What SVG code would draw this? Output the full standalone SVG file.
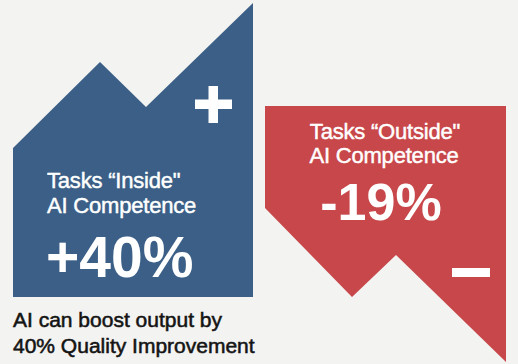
<svg xmlns="http://www.w3.org/2000/svg" width="518" height="364" viewBox="0 0 518 364">
  <style>
    .lbl { font-family: "Liberation Sans", Arial, sans-serif; font-size: 22px; fill: #ffffff; stroke: #ffffff; stroke-width: 0.45px; letter-spacing: -0.2px; }
    .big { font-family: "Liberation Sans", Arial, sans-serif; font-weight: bold; fill: #ffffff; }
    .cap { font-family: "Liberation Sans", Arial, sans-serif; font-size: 21px; fill: #141414; stroke: #141414; stroke-width: 0.55px; }
    .sign { fill: #ffffff; }
  </style>
  <rect x="0" y="0" width="518" height="364" fill="#f3f3f1"/>
  <g id="inside">
    <polygon points="13,148 100,62 146,107 253,3 253,297 13,297" fill="#3b5f86"/>
    <rect class="sign" x="195" y="99.5" width="37" height="9.5"/>
    <rect class="sign" x="208.5" y="86" width="9.5" height="37"/>
    <text class="lbl" x="47" y="188">Tasks “Inside"</text>
    <text class="lbl" x="47" y="213">AI Competence</text>
    <text class="big" x="46" y="277" font-size="57">+40%</text>
  </g>
  <g id="outside">
    <polygon points="265,106 506,106 506,362 396,255 352,297 265,208" fill="#c8474a"/>
    <rect class="sign" x="452" y="268" width="38" height="9"/>
    <text class="lbl" x="385" y="139" text-anchor="middle">Tasks “Outside"</text>
    <text class="lbl" x="384" y="163" text-anchor="middle">AI Competence</text>
    <text class="big" x="381" y="220" font-size="52" text-anchor="middle">-19%</text>
  </g>
  <g id="caption">
    <text class="cap" x="13" y="327">AI can boost output by</text>
    <text class="cap" x="13" y="353">40% Quality Improvement</text>
  </g>
  <g id="connectors"></g>
</svg>
